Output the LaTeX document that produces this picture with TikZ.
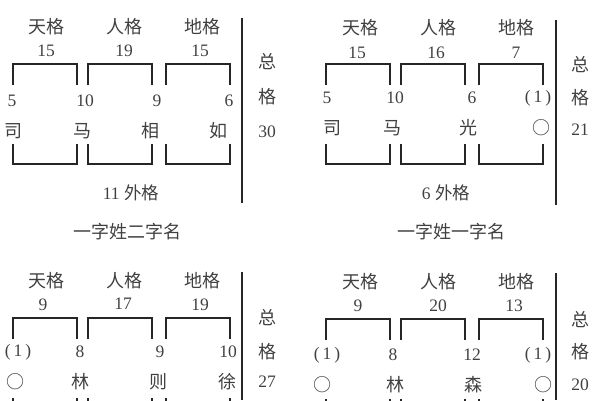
\documentclass[tikz,border=0pt]{standalone}
\usepackage{fontspec}
\setmainfont{Liberation Serif}
\newfontfamily\cjk{Noto Sans CJK SC}
\begin{document}
\begin{tikzpicture}[x=1pt,y=-1pt,
  txt/.style={text=black!75,inner sep=0pt,font=\fontsize{17.5}{17.5}\selectfont},
  han/.style={txt,font=\fontsize{18}{18}\selectfont\cjk},
  bar/.style={line width=1.1pt,black!85}]
  \useasboundingbox (0,0) rectangle (600,400);
  \clip (0,0) rectangle (600,400);
  % the brackets of the four panels
  \foreach \dx/\dy in {0/0,313/0,0/254,313/255}
    \foreach \l/\r in {13/77,88/152,166/230}{
      \draw[bar] (\dx+\l,\dy+85)--(\dx+\l,\dy+64)--(\dx+\r,\dy+64)--(\dx+\r,\dy+85);
      \draw[bar] (\dx+\l,\dy+144)--(\dx+\l,\dy+164)--(\dx+\r,\dy+164)--(\dx+\r,\dy+144);
    }
  \draw[bar] (242,18)--(242,203); \draw[bar] (556,20)--(556,205);
  \draw[bar] (242,272)--(242,400); \draw[bar] (556,273)--(556,400);
  % 司马相如
  \node[han] (tianA) at (46,27) {天格}; \node[han] (renA) at (124,27) {人格}; \node[han] (diA) at (202,27) {地格};
  \node[txt] (tnA) at (46,51) {15}; \node[txt] (rnA) at (124,51) {19}; \node[txt] (dnA) at (200,51) {15};
  \node[txt] (aA) at (12,101) {5}; \node[txt] (bA) at (85,101) {10};
  \node[txt] (cA) at (157,101) {9}; \node[txt] (dA) at (229,101) {6};
  \node[han] (siA) at (14,131) {司}; \node[han] (maA) at (82,131) {马};
  \node[han] (xiangA) at (150,131) {相}; \node[han] (ruA) at (218,131) {如};
  \node[han] (zongA) at (267,62) {总}; \node[han] (geA) at (267,97) {格}; \node[txt] (sumA) at (267,132) {30};
  \node[txt] (waiA) at (131,193) {11 {\cjk 外格}};
  \node[han] (capA) at (127,232) {一字姓二字名};
  % 司马光
  \node[han] (tianB) at (360,28) {天格}; \node[han] (renB) at (438,28) {人格}; \node[han] (diB) at (516,28) {地格};
  \node[txt] (tnB) at (357,53) {15}; \node[txt] (rnB) at (436,53) {16}; \node[txt] (dnB) at (516,53) {7};
  \node[txt] (aB) at (327,98) {5}; \node[txt] (bB) at (395,98) {10};
  \node[txt] (cB) at (472,98) {6}; \node[txt] (dB) at (538,98) {(\,1\,)};
  \node[han] (siB) at (332,128) {司}; \node[han] (maB) at (392,128) {马};
  \node[han] (guangB) at (468,128) {光}; \node[han] (kongB) at (541,128) {○};
  \node[han] (zongB) at (580,65) {总}; \node[han] (geB) at (580,98) {格}; \node[txt] (sumB) at (580,130) {21};
  \node[txt] (waiB) at (446,193) {6 {\cjk 外格}};
  \node[han] (capB) at (451,232) {一字姓一字名};
  % 徐则林
  \node[han] (tianC) at (46,281) {天格}; \node[han] (renC) at (124,281) {人格}; \node[han] (diC) at (202,281) {地格};
  \node[txt] (tnC) at (43,305) {9}; \node[txt] (rnC) at (123,304) {17}; \node[txt] (dnC) at (200,305) {19};
  \node[txt] (aC) at (18,352) {(\,1\,)}; \node[txt] (bC) at (80,352) {8};
  \node[txt] (cC) at (160,352) {9}; \node[txt] (dC) at (228,352) {10};
  \node[han] (kongC) at (15,382) {○}; \node[han] (linC) at (80,382) {林};
  \node[han] (zeC) at (158,382) {则}; \node[han] (xuC) at (227,382) {徐};
  \node[han] (zongC) at (267,318) {总}; \node[han] (geC) at (267,352) {格}; \node[txt] (sumC) at (267,382) {27};
  % 林森
  \node[han] (tianD) at (360,282) {天格}; \node[han] (renD) at (438,282) {人格}; \node[han] (diD) at (516,282) {地格};
  \node[txt] (tnD) at (358,306) {9}; \node[txt] (rnD) at (438,306) {20}; \node[txt] (dnD) at (514,306) {13};
  \node[txt] (aD) at (327,355) {(\,1\,)}; \node[txt] (bD) at (393,355) {8};
  \node[txt] (cD) at (472,355) {12}; \node[txt] (dD) at (538,355) {(\,1\,)};
  \node[han] (kongD) at (322,385) {○}; \node[han] (linD) at (395,385) {林};
  \node[han] (senD) at (473,385) {森}; \node[han] (kong2D) at (543,385) {○};
  \node[han] (zongD) at (580,320) {总}; \node[han] (geD) at (580,352) {格}; \node[txt] (sumD) at (580,385) {20};
\end{tikzpicture}
\end{document}
